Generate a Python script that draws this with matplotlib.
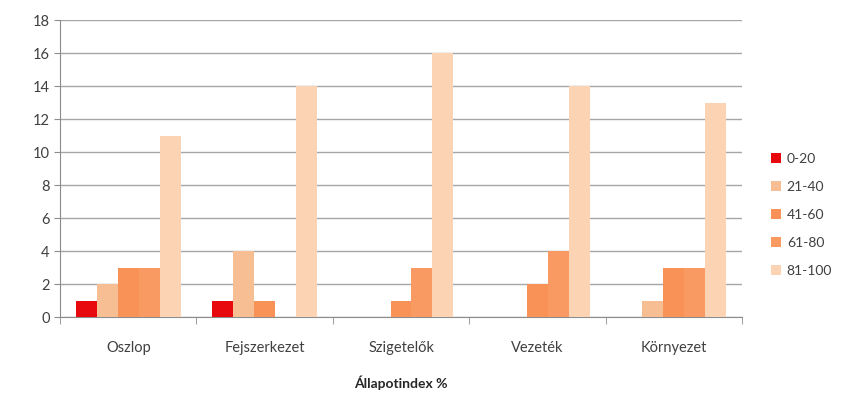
import matplotlib.pyplot as plt
import numpy as np

categories = ["Oszlop", "Fejszerkezet", "Szigetelők", "Vezeték", "Környezet"]
series_names = ["0-20", "21-40", "41-60", "61-80", "81-100"]
v_0_20 = [1, 1, 0, 0, 0]
v_21_40 = [2, 4, 0, 0, 1]
v_41_60 = [3, 1, 1, 2, 3]
v_61_80 = [3, 0, 3, 4, 3]
v_81_100 = [11, 14, 16, 14, 13]
series = [v_0_20, v_21_40, v_41_60, v_61_80, v_81_100]
colors = ["#E8090F", "#F8BE93", "#F99256", "#F99A62", "#FCD3B3"]

plt.rcParams['font.family'] = ['Lato', 'DejaVu Sans']
fig = plt.figure(figsize=(8.46, 3.93), dpi=100)
ax = fig.add_axes([0.071, 0.193, 0.806, 0.756])

n = len(series)
w = 1.0 / (n + 1.5)
x = np.arange(len(categories))
for i, (vals, name, c) in enumerate(zip(series, series_names, colors)):
    ax.bar(x - 0.5 + 0.75 * w + i * w + w / 2, vals, width=w, color=c,
           label=name, zorder=3)

ax.set_xlim(-0.5, len(categories) - 0.5)
ax.set_ylim(0, 18)
ax.set_yticks(range(0, 19, 2))
ax.set_xticks(x)
ax.set_xticklabels(categories)
ax.set_xticks(np.arange(-0.5, len(categories), 1), minor=True)
ax.tick_params(axis='x', which='major', length=0, pad=17, labelsize=10.5, labelcolor='#404040')
ax.tick_params(axis='x', which='minor', length=5, color='#8C8C8C', direction='out')
ax.tick_params(axis='y', length=4, color='#8C8C8C', labelsize=10.5, labelcolor='#404040')
ax.grid(axis='y', color='#A6A6A6', linewidth=1, zorder=0)
for s in ['top', 'right']:
    ax.spines[s].set_visible(False)
for s in ['left', 'bottom']:
    ax.spines[s].set_color('#8C8C8C')
ax.set_xlabel("Állapotindex %", fontsize=10, fontweight='bold', color='#262626', labelpad=15)

ax.legend(loc='center left', bbox_to_anchor=(1.025, 0.345), frameon=False,
          handlelength=0.7, handleheight=0.7, handletextpad=0.4,
          labelspacing=1.15, fontsize=10, labelcolor='#404040')

fig.savefig("out.png", dpi=100)
